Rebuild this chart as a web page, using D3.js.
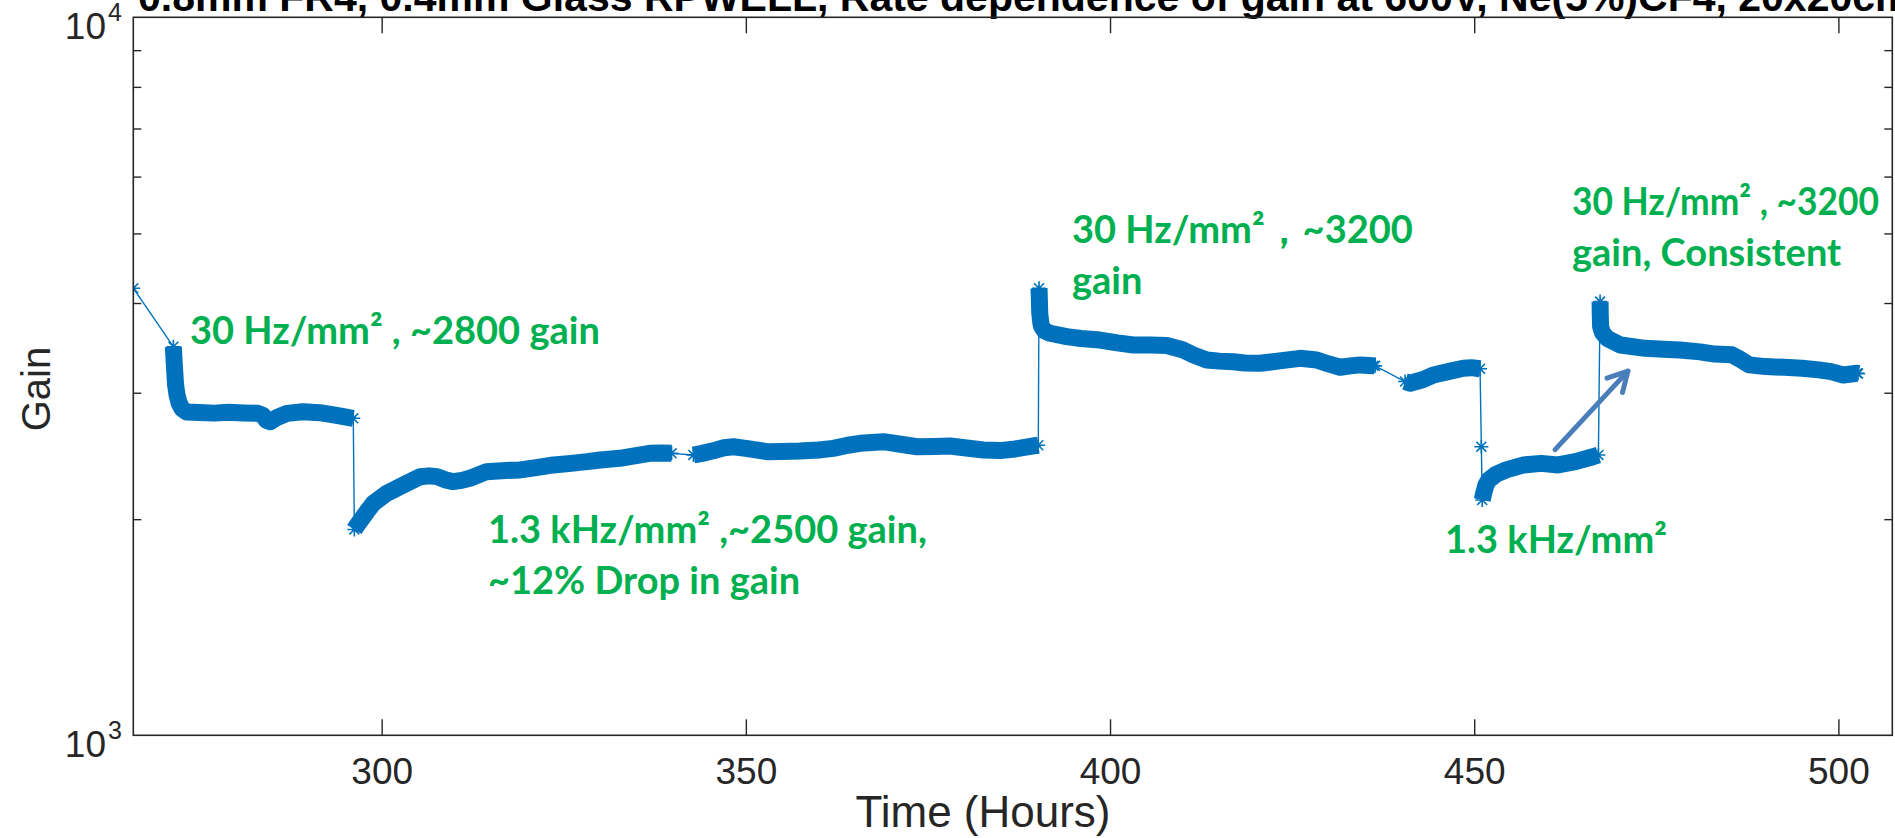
<!DOCTYPE html>
<html>
<head>
<meta charset="utf-8">
<script src="https://cdn.jsdelivr.net/npm/d3@7"></script>
<style>
  html, body { margin: 0; padding: 0; background: #ffffff; overflow: hidden; }
  svg { display: block; }
  .tick-label { font-family: "Liberation Sans", Arial, Helvetica, sans-serif; fill: #262626; }
  .note { font-family: Lato, "Open Sans", sans-serif; font-weight: 700; fill: #00B050; }
</style>
</head>
<body>
<svg id="chart" width="1895" height="838"></svg>
<script>
// ---- axis ticks ----
const timeTicks = [300, 350, 400, 450, 500];
const gainDecades = [1000, 10000];
const gainMinor = [2000, 3000, 4000, 5000, 6000, 7000, 8000, 9000];
const timeDomain = [265.9, 507.4];

// ---- measured gain vs time: one array per continuous run, [hours, gain] ----
const runStart = [[265.9, 4194]];
const run30HzFirst = [
  [271.40, 3477], [271.50, 3330], [271.60, 3200], [271.70, 3080], [271.90, 2980],
  [272.20, 2900], [272.60, 2850], [273.20, 2820], [275.0, 2815], [277.0, 2810],
  [279.0, 2818], [281.0, 2812], [283.0, 2808], [283.7, 2790], [284.2, 2745],
  [284.7, 2734], [285.6, 2770], [287.0, 2808], [289.2, 2822], [291.5, 2814],
  [293.8, 2790], [295.5, 2770], [296.1, 2764]
];
const run13kHzFirst = [
  [296.25, 1935], [296.6, 1960], [297.0, 1985], [298.0, 2050], [298.85, 2104],
  [300.7, 2173], [303.0, 2232], [305.3, 2292], [306.5, 2298], [307.6, 2292],
  [308.8, 2268], [309.8, 2256], [311.0, 2265], [312.1, 2280], [314.4, 2329],
  [317.0, 2338], [319.0, 2342], [321.0, 2358], [323.6, 2380], [326.0, 2392],
  [328.2, 2405], [330.0, 2418], [332.7, 2431], [334.5, 2449], [336.8, 2470],
  [338.5, 2472], [339.8, 2470]
];
const run13kHzSecond = [
  [342.8, 2457], [344.0, 2470], [345.5, 2490], [347.0, 2515], [348.3, 2523],
  [350.0, 2510], [352.9, 2483], [355.0, 2485], [357.4, 2488], [360.0, 2497],
  [362.0, 2510], [364.0, 2535], [365.7, 2551], [368.9, 2564], [371.0, 2545],
  [373.5, 2523], [376.0, 2525], [378.0, 2529], [380.0, 2515], [382.6, 2497],
  [384.9, 2492], [387.0, 2505], [389.5, 2529], [390.15, 2535]
];
const run30HzSecond = [
  [390.25, 4194], [390.30, 4040], [390.35, 3870], [390.50, 3750], [390.62, 3709],
  [391.0, 3660], [391.76, 3630], [394.05, 3591], [396.0, 3570], [398.63, 3552],
  [401.0, 3520], [403.2, 3496], [405.5, 3496], [407.8, 3490], [410.06, 3440],
  [411.5, 3385], [413.28, 3332], [415.0, 3320], [416.93, 3314], [418.5, 3300],
  [420.6, 3297], [423.0, 3320], [426.09, 3350], [428.38, 3332], [430.0, 3290],
  [431.58, 3255], [433.0, 3270], [434.33, 3280], [436.15, 3272], [436.4, 3270]
];
const run30HzThird = [
  [440.5, 3110], [441.2, 3093], [443.0, 3130], [444.4, 3176], [446.7, 3215],
  [448.5, 3245], [449.6, 3251], [450.8, 3240]
];
const runSwitch = [[450.98, 2523]];
const run13kHzThird = [
  [451.1, 2127], [451.3, 2173], [451.6, 2230], [452.0, 2268], [453.0, 2310],
  [454.4, 2342], [456.8, 2380], [459.2, 2392], [461.5, 2380], [463.9, 2405],
  [466.3, 2443], [467.05, 2457]
];
const run30HzFourth = [
  [467.28, 4018], [467.30, 3870], [467.35, 3709], [467.6, 3640], [468.24, 3572],
  [470.1, 3496], [473.47, 3459], [476.0, 3450], [478.25, 3440], [481.0, 3420],
  [483.02, 3396], [485.41, 3388], [486.5, 3340], [487.78, 3280], [490.0, 3262],
  [492.55, 3255], [495.0, 3245], [497.32, 3228], [499.0, 3210], [500.66, 3176],
  [502.56, 3193], [502.7, 3190]
];
const runs = [runStart, run30HzFirst, run13kHzFirst, run13kHzSecond, run30HzSecond,
              run30HzThird, runSwitch, run13kHzThird, run30HzFourth];

// arrow from the 1.3 kHz level back up to the recovered 30 Hz level, [hours, gain]
const arrowFrom = [461.1, 2500];
const arrowTo = [471.1, 3215];

// ---- layout ----
const svg = d3.select("#chart");
const plotLeft = 133.3, plotRight = 1892.3, plotTop = 17.3, plotBottom = 735.3;

const x = d3.scaleLinear().domain(timeDomain).range([plotLeft, plotRight]);
const y = d3.scaleLog().domain([1000, 10000]).range([plotBottom, plotTop]);

const blue = "#0072BD";
const axisColor = "#262626";

// title (runs above the figure edge)
svg.append("text")
  .attr("x", 138).attr("y", 11)
  .attr("font-family", "'Liberation Sans', Arial, sans-serif")
  .attr("font-weight", 700).attr("font-size", 41).attr("fill", "#000")
  .text("0.8mm FR4, 0.4mm Glass RPWELL, Rate dependence of gain at 600V, Ne(5%)CF4, 20x20cm\u00B2");

// clip for data
svg.append("defs").append("clipPath").attr("id", "plotClip")
  .append("rect").attr("x", plotLeft).attr("y", plotTop)
  .attr("width", plotRight - plotLeft).attr("height", plotBottom - plotTop);

const plot = svg.append("g").attr("clip-path", "url(#plotClip)");

const line = d3.line().x(d => x(d[0])).y(d => y(d[1]));

// thin connecting line through every sample
const allPoints = runs.flat();
plot.append("path")
  .attr("d", line(allPoints))
  .attr("fill", "none").attr("stroke", blue).attr("stroke-width", 1.4);

// dense runs appear as a thick band of overlapping markers
runs.filter(r => r.length > 1).forEach(r => {
  plot.append("path")
    .attr("d", line(r))
    .attr("fill", "none").attr("stroke", blue)
    .attr("stroke-width", 17).attr("stroke-linejoin", "round").attr("stroke-linecap", "butt");
});

// asterisk markers
const mr = 7, md = mr * 0.7071;
const star = `M${-mr},0H${mr}M0,${-mr}V${mr}M${-md},${-md}L${md},${md}M${-md},${md}L${md},${-md}`;
plot.append("g").selectAll("path").data(allPoints).join("path")
  .attr("transform", d => `translate(${x(d[0])},${y(d[1])})`)
  .attr("d", star).attr("fill", "none").attr("stroke", blue).attr("stroke-width", 1.6);

// ---- axes ----
function styleAxis(g) {
  g.select(".domain").remove();
  g.selectAll(".tick line").attr("stroke", axisColor).attr("stroke-width", 1.4);
}

svg.append("g").attr("transform", `translate(0,${plotBottom})`)
  .call(d3.axisBottom(x).tickValues(timeTicks).tickSizeInner(-16).tickSizeOuter(0).tickPadding(22))
  .call(styleAxis)
  .call(g => g.selectAll(".tick text").attr("class", "tick-label")
    .attr("font-size", 37).attr("fill", axisColor));

svg.append("g").attr("transform", `translate(0,${plotTop})`)
  .call(d3.axisTop(x).tickValues(timeTicks).tickSizeInner(-16).tickSizeOuter(0).tickFormat(""))
  .call(styleAxis);

svg.append("g").attr("transform", `translate(${plotLeft},0)`)
  .call(d3.axisLeft(y).tickValues(gainMinor).tickSizeInner(-8).tickSizeOuter(0).tickFormat(""))
  .call(styleAxis);

svg.append("g").attr("transform", `translate(${plotRight},0)`)
  .call(d3.axisRight(y).tickValues(gainMinor).tickSizeInner(-8).tickSizeOuter(0).tickFormat(""))
  .call(styleAxis);

// decade labels 10^3, 10^4
const dec = svg.append("g");
gainDecades.forEach(v => {
  const ty = y(v);
  dec.append("text").attr("class", "tick-label")
    .attr("x", 106).attr("y", ty + 22).attr("text-anchor", "end")
    .attr("font-size", 37).text("10");
  dec.append("text").attr("class", "tick-label")
    .attr("x", 108).attr("y", ty + 4)
    .attr("font-size", 25).text(String(Math.round(Math.log10(v))));
});

// frame
svg.append("rect")
  .attr("x", plotLeft).attr("y", plotTop).attr("width", plotRight - plotLeft).attr("height", plotBottom - plotTop)
  .attr("fill", "none").attr("stroke", axisColor).attr("stroke-width", 1.6);

// axis titles
svg.append("text").attr("class", "tick-label")
  .attr("x", 983).attr("y", 827).attr("text-anchor", "middle")
  .attr("font-size", 44).text("Time (Hours)");

svg.append("text").attr("class", "tick-label")
  .attr("transform", `translate(50,389) rotate(-90)`)
  .attr("text-anchor", "middle")
  .attr("font-size", 40).text("Gain");

// ---- annotations ----
const notes = [
  { x: 190, y: 344, t: "30 Hz/mm\u00B2 , ~2800 gain" },
  { x: 488, y: 543, t: "1.3 kHz/mm\u00B2 ,~2500 gain," },
  { x: 488, y: 594, t: "~12% Drop in gain" },
  { x: 1072, y: 243, t: "30 Hz/mm\u00B2\uFF0C~3200" },
  { x: 1072, y: 294, t: "gain" },
  { x: 1572, y: 215, t: "30 Hz/mm\u00B2 , ~3200", len: 307 },
  { x: 1572, y: 266, t: "gain, Consistent" },
  { x: 1445, y: 553, t: "1.3 kHz/mm\u00B2" }
];
svg.append("g").selectAll("text").data(notes).join("text")
  .attr("class", "note").attr("x", d => d.x).attr("y", d => d.y)
  .attr("font-size", 38)
  .attr("textLength", d => d.len || null)
  .attr("lengthAdjust", d => d.len ? "spacingAndGlyphs" : null)
  .text(d => d.t);

// arrow
const arrowColor = "#4A7EBB";
const ax0 = x(arrowFrom[0]), ay0 = y(arrowFrom[1]);
const ax1 = x(arrowTo[0]), ay1 = y(arrowTo[1]);
const ang = Math.atan2(ay1 - ay0, ax1 - ax0);
const headLen = 22, spread = 0.5;
svg.append("line")
  .attr("x1", ax0).attr("y1", ay0).attr("x2", ax1).attr("y2", ay1)
  .attr("stroke", arrowColor).attr("stroke-width", 5).attr("stroke-linecap", "round");
svg.append("path")
  .attr("d", `M${ax1 - headLen * Math.cos(ang - spread)},${ay1 - headLen * Math.sin(ang - spread)}` +
             `L${ax1},${ay1}` +
             `L${ax1 - headLen * Math.cos(ang + spread)},${ay1 - headLen * Math.sin(ang + spread)}`)
  .attr("fill", "none").attr("stroke", arrowColor).attr("stroke-width", 5)
  .attr("stroke-linecap", "round").attr("stroke-linejoin", "round");
</script>
</body>
</html>
